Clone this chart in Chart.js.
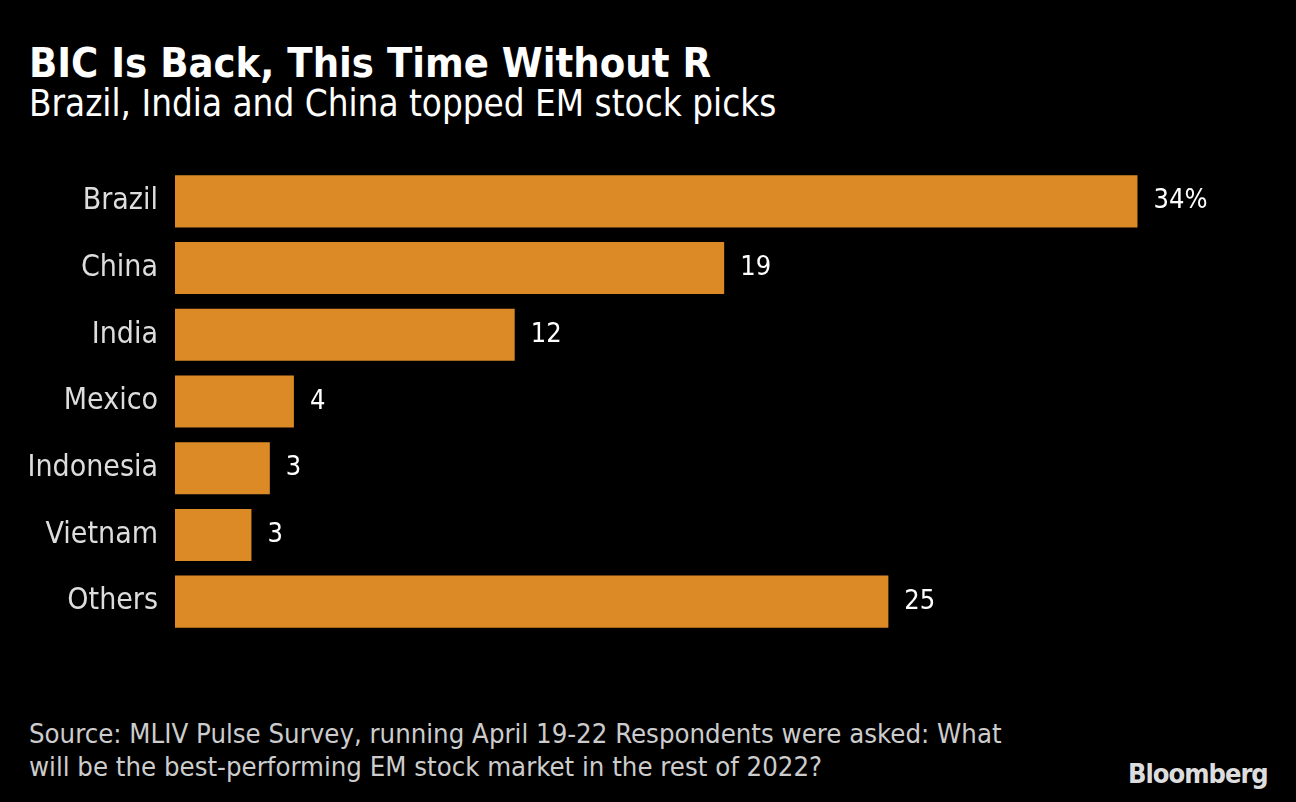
<!DOCTYPE html>
<html>
<head>
<meta charset="utf-8">
<script src="https://cdn.jsdelivr.net/npm/chart.js@4.4.0/dist/chart.umd.min.js"></script>
<style>
  html, body { margin: 0; padding: 0; background: #000; }
  body { width: 1296px; height: 802px; position: relative; overflow: hidden; font-family: "DejaVu Sans Condensed", "Liberation Sans Narrow", sans-serif; }
  .title { position: absolute; left: 29px; top: 39px; color: #fff; font-weight: bold; font-size: 41.3px; line-height: 48px; }
  .subtitle { position: absolute; left: 29px; top: 82px; color: #fff; font-size: 36.5px; line-height: 44px; }
  .source { position: absolute; left: 29px; top: 717px; color: #ccc; font-size: 27.3px; line-height: 33px; }
  .logo { position: absolute; left: 1128px; top: 758px; color: #ddd; font-weight: bold; font-size: 27px; letter-spacing: -1px; font-family: "Liberation Sans Narrow", "DejaVu Sans Condensed", sans-serif; }
  #chart { position: absolute; left: 0; top: 168px; }
</style>
</head>
<body>
<div class="title">BIC Is Back, This Time Without R</div>
<div class="subtitle">Brazil, India and China topped EM stock picks</div>
<canvas id="chart" width="1296" height="467"></canvas>
<div class="source">Source: MLIV Pulse Survey, running April 19-22 Respondents were asked: What<br>will be the best-performing EM stock market in the rest of 2022?</div>
<div class="logo">Bloomberg</div>
<script>
const countries = ['Brazil', 'China', 'India', 'Mexico', 'Indonesia', 'Vietnam', 'Others'];
const shares = [34, 19.4, 12.0, 4.2, 3.35, 2.7, 25.2];
const shareLabels = ['34%', '19', '12', '4', '3', '3', '25'];

const valueLabels = {
  id: 'valueLabels',
  afterDatasetsDraw(chart) {
    const ctx = chart.ctx;
    const meta = chart.getDatasetMeta(0);
    ctx.save();
    ctx.fillStyle = '#fff';
    ctx.font = '27px "DejaVu Sans Condensed", "Liberation Sans Narrow", sans-serif';
    ctx.textBaseline = 'middle';
    ctx.textAlign = 'left';
    meta.data.forEach((bar, i) => {
      ctx.fillText(shareLabels[i], bar.x + 16, bar.y);
    });
    ctx.restore();
  }
};

new Chart(document.getElementById('chart'), {
  type: 'bar',
  data: {
    labels: countries,
    datasets: [{
      data: shares,
      backgroundColor: '#db8a25',
      borderWidth: 0,
      barPercentage: 0.78,
      categoryPercentage: 1.0
    }]
  },
  options: {
    indexAxis: 'y',
    responsive: false,
    animation: false,
    layout: { padding: 0 },
    plugins: {
      legend: { display: false },
      tooltip: { enabled: false }
    },
    scales: {
      x: {
        display: false,
        min: 0,
        max: 39.6
      },
      y: {
        grid: { display: false, drawTicks: false },
        border: { display: false },
        ticks: {
          color: '#ddd',
          padding: 17,
          font: { family: '"DejaVu Sans Condensed", "Liberation Sans Narrow", sans-serif', size: 30 }
        },
        afterFit(axis) {
          axis.width = 175;
          axis.paddingTop = 0;
          axis.paddingBottom = 0;
        }
      }
    }
  },
  plugins: [valueLabels]
});
</script>
</body>
</html>
